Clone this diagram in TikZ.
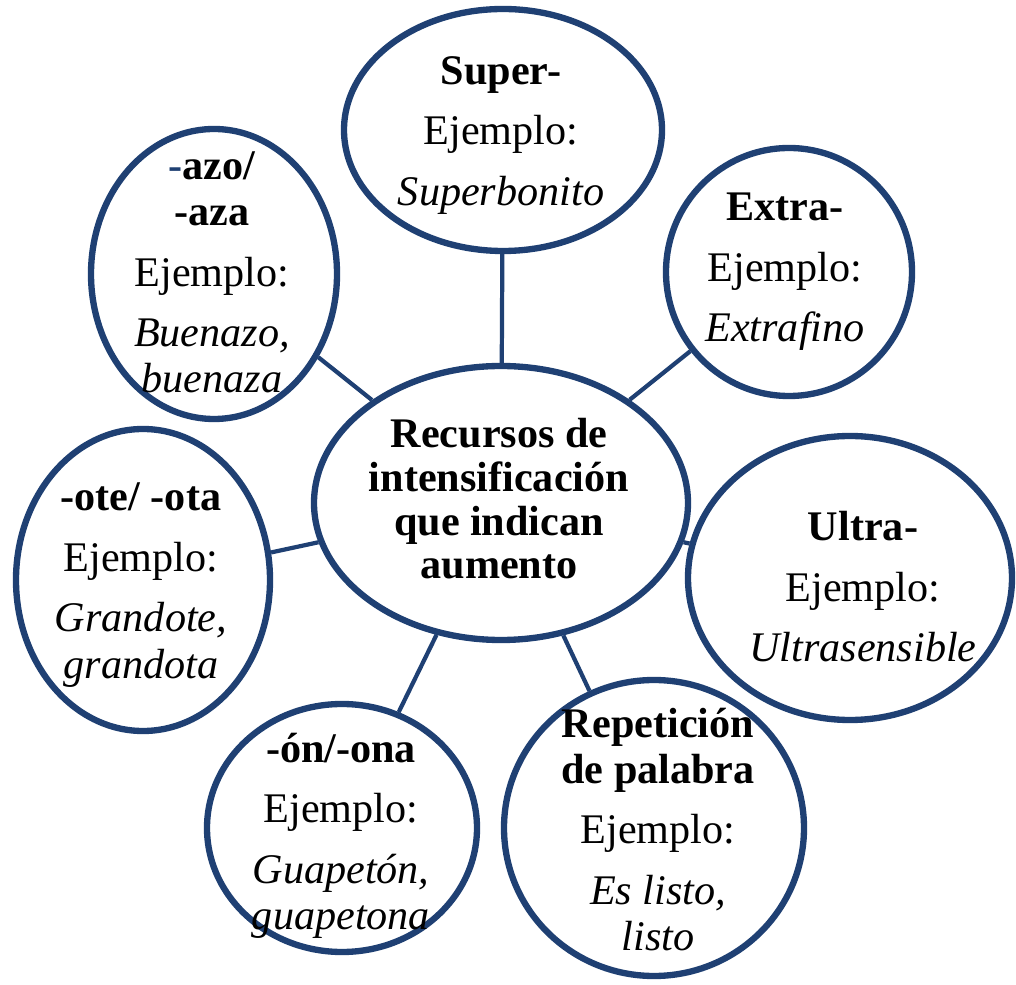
\documentclass[tikz,border=0pt]{standalone}
\usepackage{fontspec}
\setmainfont{Liberation Serif}
\definecolor{myNavy}{RGB}{31,64,115}
\usetikzlibrary{shapes.geometric}

\begin{document}
\begin{tikzpicture}[
        bubble/.style={ellipse, draw=myNavy, line width=1.8pt, fill=white, inner sep=0pt},
        link/.style={draw=myNavy, line width=1.2pt},
        txt/.style={align=center, inner sep=0pt, font=\fontsize{12}{13.2}\selectfont}
    ]
                \useasboundingbox (0,0) rectangle (10.16,9.84);

                % bubbles
                \node[bubble, minimum width=3.74cm, minimum height=2.74cm] (centro) at (5.01,4.81) {};
                \node[bubble, minimum width=3.18cm, minimum height=2.42cm] (super) at (5.03,8.54) {};
                \node[bubble, minimum width=2.46cm, minimum height=2.48cm] (extra) at (7.89,7.12) {};
                \node[bubble, minimum width=2.46cm, minimum height=2.90cm] (azo) at (2.14,7.10) {};
                \node[bubble, minimum width=2.54cm, minimum height=3.02cm] (ote) at (1.43,4.04) {};
                \node[bubble, minimum width=3.24cm, minimum height=2.84cm] (ultra) at (8.50,4.06) {};
                \node[bubble, minimum width=2.70cm, minimum height=2.48cm] (on) at (3.42,1.56) {};
                \node[bubble, minimum width=3.00cm, minimum height=2.96cm] (rep) at (6.54,1.56) {};

                % links
                \draw[link] (centro) -- (super);
                \draw[link] (centro) -- (extra);
                \draw[link] (centro) -- (azo);
                \draw[link] (centro) -- (ote);
                \draw[link] (centro) -- (ultra);
                \draw[link] (centro) -- (on);
                \draw[link] (centro) -- (rep);

                % texts
                \node[txt, font=\fontsize{12}{12.4}\selectfont\bfseries] (centroTxt) at (4.99,4.85)
                    {Recursos de\\intensificación\\que indican\\aumento};
                \node[txt] (superTxt) at (5.01,8.485)
                    {\textbf{Super-}\\[4pt]Ejemplo:\\[4pt]\textit{Superbonito}};
                \node[txt] (extraTxt) at (7.85,7.12)
                    {\textbf{Extra-}\\[4pt]Ejemplo:\\[4pt]\textit{Extrafino}};
                \node[txt] (azoTxt) at (2.12,7.115)
                    {\textbf{{\color{myNavy}-}azo/}\\\textbf{-aza}\\[4pt]Ejemplo:\\[4pt]\textit{Buenazo,}\\\textit{buenaza}};
                \node[txt] (oteTxt) at (1.41,3.99)
                    {\textbf{-ote/ -ota}\\[4pt]Ejemplo:\\[4pt]\textit{Grandote,}\\\textit{grandota}};
                \node[txt] (ultraTxt) at (8.63,3.97)
                    {\textbf{Ultra-}\\[4pt]Ejemplo:\\[4pt]\textit{Ultrasensible}};
                \node[txt] (onTxt) at (3.41,1.48)
                    {\textbf{-ón/-ona}\\[4pt]Ejemplo:\\[4pt]\textit{Guapetón,}\\\textit{guapetona}};
                \node[txt] (repTxt) at (6.58,1.545)
                    {\textbf{Repetición}\\\textbf{de palabra}\\[4pt]Ejemplo:\\[4pt]\textit{Es listo,}\\\textit{listo}};
\end{tikzpicture}
\end{document}
